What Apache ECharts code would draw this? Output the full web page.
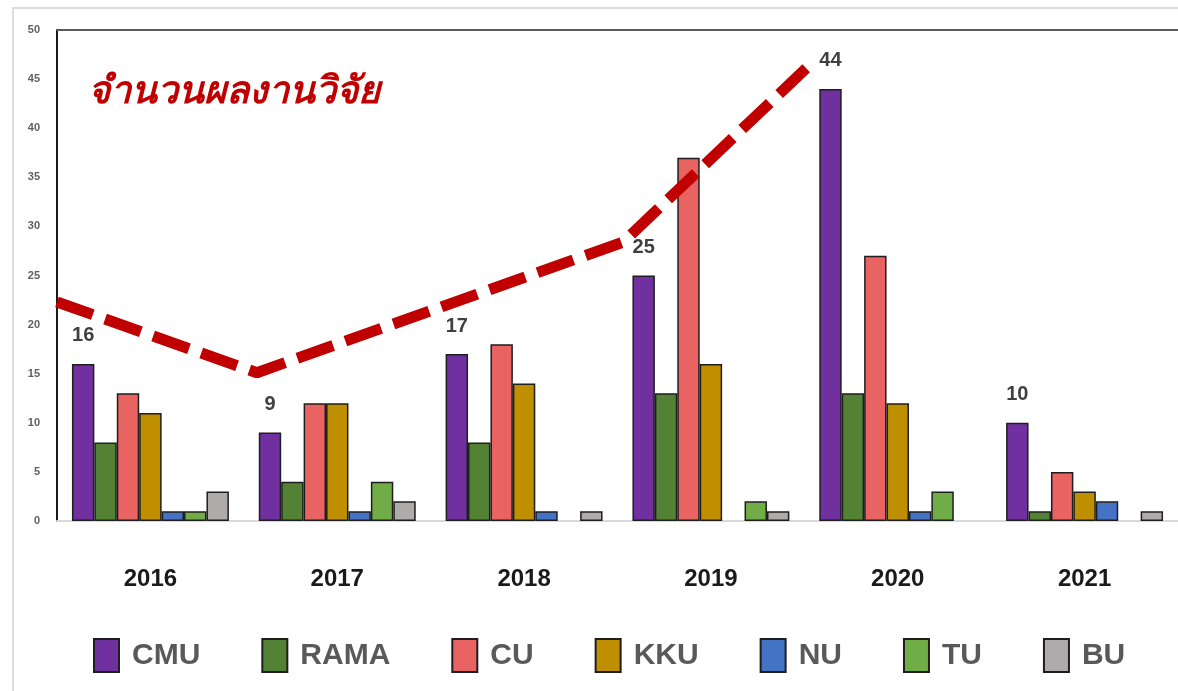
<!DOCTYPE html>
<html>
<head>
<meta charset="utf-8">
<script src="https://cdn.jsdelivr.net/npm/echarts@6/dist/echarts.min.js"></script>
<style>
  html, body { margin: 0; padding: 0; background: #fff; }
  #chart { width: 1178px; height: 691px; }
</style>
</head>
<body>
<div id="chart"></div>
<script>
(() => {
    const years = ["2016", "2017", "2018", "2019", "2020", "2021"];
    const names = ["CMU", "RAMA", "CU", "KKU", "NU", "TU", "BU"];

    const cmu  = [16, 9, 17, 25, 44, 10];
    const rama = [8, 4, 8, 13, 13, 1];
    const cu   = [13, 12, 18, 37, 27, 5];
    const kku  = [11, 12, 14, 16, 12, 3];
    const nu   = [1, 1, 1, 0, 1, 2];
    const tu   = [1, 4, 0, 2, 3, 0];
    const bu   = [3, 2, 1, 1, 0, 1];

    // hand-drawn trend line, x in category units (0 = left edge of 2016)
    const trendX = [0, 1.07, 3.03, 4.01];
    const trendY = [22.3, 15.1, 28.4, 46.1];

    const title = "จำนวนผลงานวิจัย";

    const colors = ["#7030a0", "#548235", "#ea6363", "#bf8f00", "#4472c4", "#70ad47", "#afabab"];
    const values = [cmu, rama, cu, kku, nu, tu, bu];

    let chart = echarts.init(document.getElementById("chart"));

    // zero counts are left empty, as in the original (no outline at the axis)
    let bars = names.map((name, i) => ({
        name: name,
        type: "bar",
        data: values[i].map(v => v === 0 ? "-" : v),
        barGap: 0,
        barCategoryGap: "16%",
        itemStyle: {color: colors[i], borderColor: "#1e1e1e", borderWidth: 1.5},
        label: i === 0 ? {
            show: true,
            position: "top",
            distance: 18,
            fontSize: 20,
            fontWeight: "bold",
            color: "#404040",
            fontFamily: "Liberation Sans"
        } : {show: false}
    }));

    let option = {
        animation: false,
        grid: {left: 57, right: 0, top: 30, bottom: 170},
        graphic: [
            {
                type: "rect",
                shape: {x: 13, y: 8, width: 1200, height: 720},
                style: {fill: "none", stroke: "#dcdcdc", lineWidth: 2},
                z: -10
            },
            {
                type: "text",
                left: 88,
                top: 74,
                style: {
                    text: title,
                    fill: "#c00000",
                    fontSize: 38,
                    fontWeight: "bold",
                    fontStyle: "italic",
                    fontFamily: "sans-serif"
                }
            }
        ],
        legend: {
            data: names,
            left: 88,
            top: 633,
            itemWidth: 25,
            itemHeight: 33,
            itemGap: 61,
            icon: "rect",
            textStyle: {
                fontSize: 30,
                fontWeight: "bold",
                color: "#595959",
                padding: [0, 0, 0, 8],
                fontFamily: "Liberation Sans"
            }
        },
        xAxis: [
            {
                type: "category",
                data: years,
                axisLine: {lineStyle: {color: "#d9d9d9", width: 2}},
                axisTick: {show: false},
                axisLabel: {
                    margin: 46,
                    fontSize: 24,
                    fontWeight: "bold",
                    color: "#1a1a1a",
                    fontFamily: "Liberation Sans"
                }
            },
            {
                type: "value",
                position: "top",
                min: 0,
                max: 6,
                axisLine: {show: true, lineStyle: {color: "#5a5a5a", width: 2}},
                axisTick: {show: false},
                axisLabel: {show: false},
                splitLine: {show: false}
            }
        ],
        yAxis: {
            type: "value",
            min: 0,
            max: 50,
            interval: 5,
            axisLine: {show: true, lineStyle: {color: "#1a1a1a", width: 2}},
            axisTick: {show: false},
            splitLine: {show: false},
            axisLabel: {
                margin: 17,
                fontSize: 11,
                fontWeight: "bold",
                color: "#5f5f5f",
                fontFamily: "Liberation Sans"
            }
        },
        series: bars.concat([{
            name: "trend",
            type: "line",
            xAxisIndex: 1,
            data: trendX.map((x, i) => [x, trendY[i]]),
            symbol: "none",
            z: 5,
            lineStyle: {color: "#c00000", width: 11, type: [38, 13], cap: "butt"}
        }])
    };
    chart.setOption(option);
})();
</script>
</body>
</html>
